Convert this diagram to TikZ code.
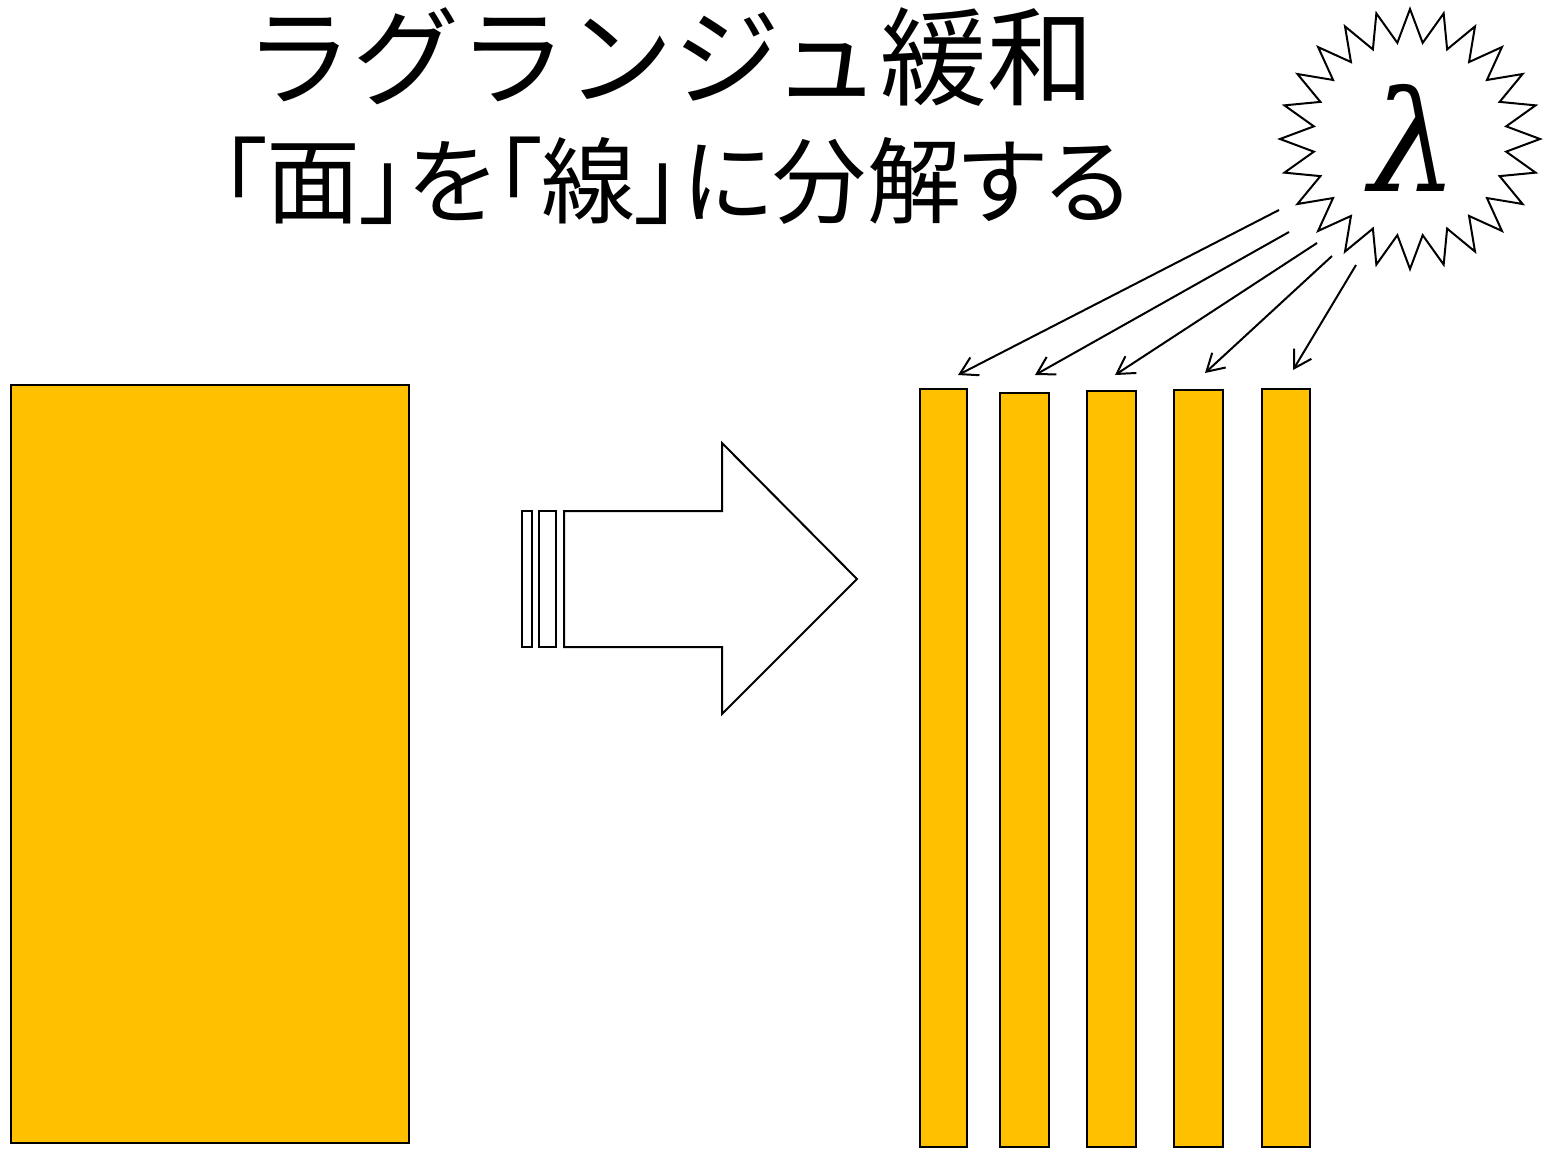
\documentclass[tikz,border=0pt]{standalone}
\usepackage{fontspec}
\newfontfamily\jp{Noto Sans CJK JP}
\newfontfamily\jpp[RawFeature=+palt]{Noto Sans CJK JP}
\newfontfamily\lamfont{DejaVu Serif}
\usetikzlibrary{arrows.meta}
\definecolor{gold}{HTML}{FFC000}
\tikzset{
  block/.style={draw=black, line width=2pt, fill=gold, rectangle, inner sep=0pt},
  outline/.style={draw=black, line width=2pt, line join=miter},
  conn/.style={draw=black, line width=2pt, -{Straight Barb[length=17pt,width=20pt,line width=2pt]}},
}
\begin{document}
\begin{tikzpicture}[x=1pt,y=-1pt]
\useasboundingbox (0,0) rectangle (1554,1149);
% titles
\node[font=\jp\fontsize{107}{107}\selectfont, inner sep=0pt] (title) at (670,57) {ラグランジュ緩和};
\node[font=\jpp\fontsize{94}{94}\selectfont, inner sep=0pt] (sub) at (675,181) {「面」を「線」に分解する};
% left block
\node[block, minimum width=398pt, minimum height=758pt] (face) at (210,764) {};
% strips
\node[block, minimum width=47pt, minimum height=758pt] (s1) at (943.5,768) {};
\node[block, minimum width=49pt, minimum height=754pt] (s2) at (1024.5,770) {};
\node[block, minimum width=49pt, minimum height=756pt] (s3) at (1111.5,769) {};
\node[block, minimum width=49pt, minimum height=757pt] (s4) at (1198.5,768.5) {};
\node[block, minimum width=48pt, minimum height=758pt] (s5) at (1286,768) {};
% block arrow
\draw[outline] (522,511) rectangle (532,647);
\draw[outline] (539,511) rectangle (556,647);
\draw[outline] (564,511) -- (722,511) -- (722,443) -- (857,579) -- (722,714) -- (722,647) -- (564,647) -- cycle;
% star
\coordinate (lc) at (1410,139);
\draw[outline] ([shift={(90:130)}]lc)
  \foreach \i in {0,...,23} { -- ([shift={(97.5+\i*15:97)}]lc) -- ([shift={(105+\i*15:130)}]lc) } -- cycle;
\node[font=\lamfont\itshape\fontsize{140}{140}\selectfont, inner sep=0pt] (lam) at (1414,138) {λ};
% connectors
\coordinate (a1s) at (1279,210); \coordinate (a1e) at (958,375);
\coordinate (a2s) at (1289,232); \coordinate (a2e) at (1035,375);
\coordinate (a3s) at (1317,243); \coordinate (a3e) at (1115,375);
\coordinate (a4s) at (1332,256); \coordinate (a4e) at (1205,373);
\coordinate (a5s) at (1356,265); \coordinate (a5e) at (1293,370);
\draw[conn] (a1s) -- (a1e);
\draw[conn] (a2s) -- (a2e);
\draw[conn] (a3s) -- (a3e);
\draw[conn] (a4s) -- (a4e);
\draw[conn] (a5s) -- (a5e);
\end{tikzpicture}
\end{document}
